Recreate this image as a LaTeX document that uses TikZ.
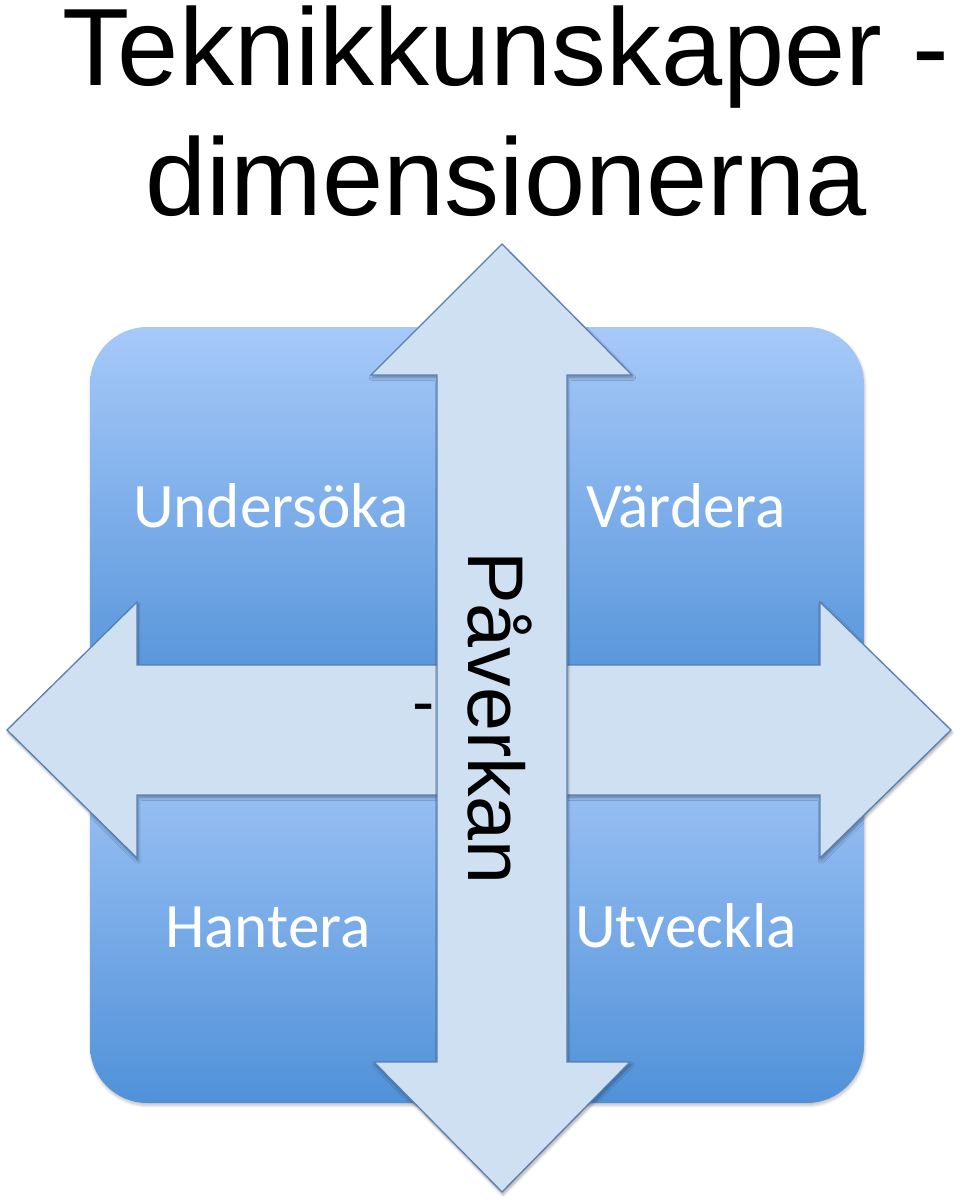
\documentclass[tikz,border=0pt]{standalone}
\usepackage{fontspec}
\setmainfont{Liberation Sans}
\newfontfamily\calibri{Carlito}
\usetikzlibrary{shadows.blur}
\definecolor{boxtop}{RGB}{167,201,249}
\definecolor{boxbot}{RGB}{80,145,216}
\definecolor{arrowfill}{RGB}{208,224,243}
\definecolor{arrowline}{RGB}{88,128,178}
\tikzset{
  quadbox/.style={top color=boxtop, bottom color=boxbot, draw=none,
    rounded corners=43pt,
    blur shadow={shadow blur steps=6, shadow xshift=0.6pt, shadow yshift=-1.8pt, shadow opacity=25}},
  bigarrow/.style={fill=arrowfill, draw=arrowline, line width=1pt, line join=miter,
    blur shadow={shadow blur steps=6, shadow xshift=0.8pt, shadow yshift=-2pt, shadow opacity=35}},
  quadlabel/.style={font=\calibri\fontsize{47.5}{51}\selectfont, text=white, inner sep=0pt, anchor=base},
  titletext/.style={font=\fontsize{82.5}{99}\selectfont, inner sep=0pt, anchor=base},
}
\begin{document}
\begin{tikzpicture}[x=0.75pt, y=-0.75pt]
\useasboundingbox (0,0) rectangle (960,1203);
% title
\node[titletext] (title1) at (506,85) {Teknikkunskaper -};
\node[titletext] (title2) at (506,215) {dimensionerna};
% quadrant boxes
\path[quadbox] (90,327) rectangle (471,709);
\path[quadbox] (483,327) rectangle (864,709);
\path[quadbox] (90,721) rectangle (471,1103);
\path[quadbox] (483,721) rectangle (864,1103);
% labels
\node[quadlabel] (und) at (271,527) {Undersöka};
\node[quadlabel] (vard) at (686,527) {Värdera};
\node[quadlabel] (hant) at (268,947) {Hantera};
\node[quadlabel] (utv) at (686,947) {Utveckla};
% horizontal double arrow
\draw[bigarrow] (7,730) -- (137,602) -- (137,665) -- (820,665) -- (820,602) -- (951,730)
  -- (820,858) -- (820,795) -- (137,795) -- (137,858) -- cycle;
\node[font=\fontsize{50}{54}\selectfont, inner sep=0pt, anchor=base] (dash) at (424,724) {-};
% vertical double arrow
\draw[bigarrow] (502,244) -- (632,375) -- (567,375) -- (567,1062) -- (630,1062) -- (502,1192)
  -- (374,1062) -- (437,1062) -- (437,375) -- (371,375) -- cycle;
\node[font=\fontsize{59.25}{64}\selectfont, inner sep=0pt, anchor=base, rotate=-90] (pav) at (468,718) {Påverkan};
\end{tikzpicture}
\end{document}
